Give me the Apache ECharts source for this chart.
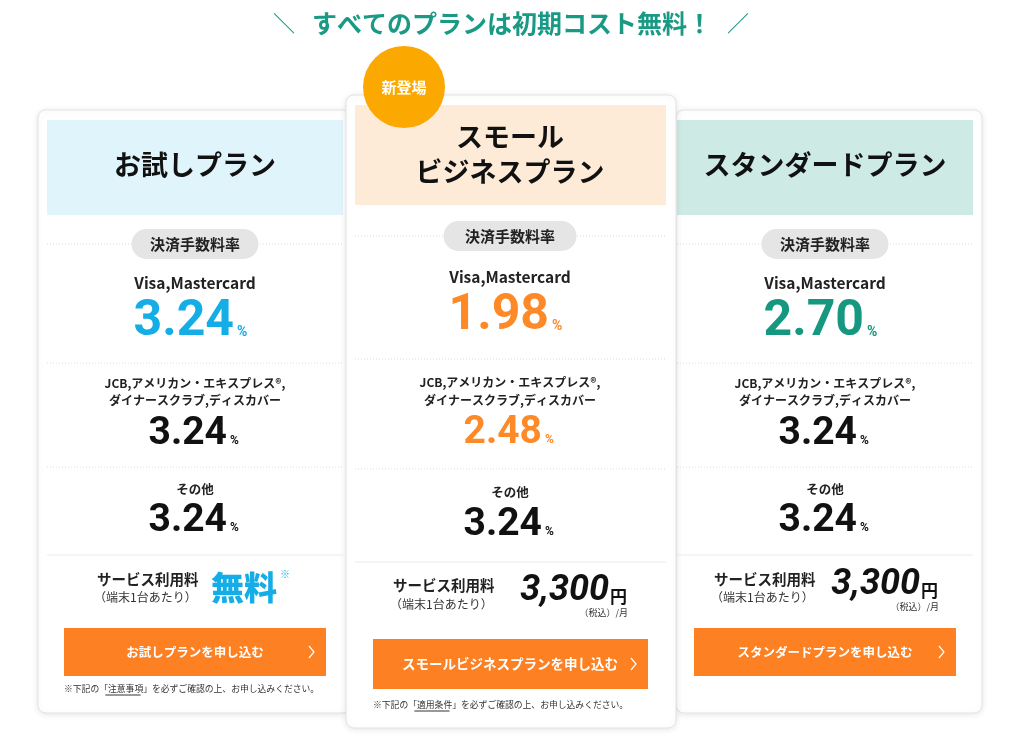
<!DOCTYPE html>
<html><head><meta charset="utf-8">
<script src="https://cdn.jsdelivr.net/npm/echarts@6/dist/echarts.min.js"></script>
<style>html,body{margin:0;padding:0;background:#fff}#c{width:1024px;height:742px}</style>
</head><body><div id="c"></div>
<script>
// ---- data ----
const headline = 'すべてのプランは初期コスト無料！';
const planNames = ['お試しプラン', 'スモール\nビジネスプラン', 'スタンダードプラン'];
const badgeLabel = '新登場';
const rateLabel = '決済手数料率';
const brandVisa = 'Visa,Mastercard';
const brandJcb = ['JCB,アメリカン・エキスプレス®,', 'ダイナースクラブ,ディスカバー'];
const brandOther = 'その他';
const visaRates = ['3.24', '1.98', '2.70'];
const jcbRates = ['3.24', '2.48', '3.24'];
const otherRates = ['3.24', '3.24', '3.24'];
const feeLabel = ['サービス利用料', '（端末1台あたり）'];
const serviceFees = ['無料', '3,300', '3,300'];
const feeUnit = '円';
const feeNote = '（税込）/月';
const buttonLabels = ['お試しプランを申し込む', 'スモールビジネスプランを申し込む', 'スタンダードプランを申し込む'];
const footnotes = [['※下記の「', '注意事項', '」を必ずご確認の上、お申し込みください。'], ['※下記の「', '適用条件', '」を必ずご確認の上、お申し込みください。'], null];

// ---- layout / style ----
const JP = '"Noto Sans CJK JP", "Noto Sans", sans-serif';
const NUM = 'Roboto, "Noto Sans", sans-serif';
const ORANGE_BTN = '#fd8022';
const layouts = [
  {cx:195, x:38, y:110, w:312, h:603, hx:47, hw:296, hy:120, hh:95, headFill:'#e0f4fb', rateColor:'#15ade6', jcbColor:'#111',
   pill:244, pw:127, visa:283, n1:322, d1:363, j1:383, j2:400, n2:434, d2:467, o:489, n3:521, d3:555, f1:579, f2:597, fn:587,
   lx:97, fr:null, by:628, bh:48, bx:64, bw:262, bfs:12.5, foot:689, title:[165]},
  {cx:510, x:346, y:95, w:330, h:633, hx:355, hw:311, hy:105, hh:100, headFill:'#fdebd8', rateColor:'#fd8a27', jcbColor:'#fd8a27',
   pill:236, pw:133, visa:277, n1:316, d1:359, j1:382, j2:400, n2:433, d2:469, o:492, n3:525, d3:562, f1:585, f2:604, fn:591,
   lx:393, fr:609, by:639, bh:50, bx:373, bw:275, bfs:13.5, foot:705, title:[137,172]},
  {cx:825, x:676, y:110, w:306, h:603, hx:677, hw:296, hy:120, hh:95, headFill:'#cdeae5', rateColor:'#16977f', jcbColor:'#111',
   pill:244, pw:127, visa:283, n1:322, d1:363, j1:383, j2:400, n2:434, d2:467, o:489, n3:521, d3:555, f1:579, f2:597, fn:585,
   lx:714, fr:920, by:628, bh:48, bx:694, bw:262, bfs:12.5, foot:null, title:[165]}
];

const els = [];
function T(x, y, text, size, color, opt) {
  opt = opt || {};
  els.push({type:'text', x:x, y:y, z: opt.z || 10, style:{text:text, fill:color, fontSize:size,
    fontWeight: opt.weight || 'bold', fontStyle: opt.style || 'normal', fontFamily: opt.family || JP,
    textAlign: opt.align || 'center', textVerticalAlign: opt.va || 'middle'}});
}
function R(x, y, w, h, fill, opt) {
  opt = opt || {};
  els.push({type:'rect', z: opt.z || 5, shape:{x:x, y:y, width:w, height:h, r: opt.r || 0},
    style:Object.assign({fill:fill}, opt.style || {})});
}
function L(x1, y1, x2, y2, color, dash, z) {
  els.push({type:'line', z: z || 6, shape:{x1:x1, y1:y1, x2:x2, y2:y2},
    style:{stroke:color, lineWidth:1, lineDash: dash || null}});
}

// headline
T(512, 23, headline, 25, '#1a9a85');
T(284, 23, '＼', 22, '#1a9a85', {weight:'normal'});
T(738, 23, '／', 22, '#1a9a85', {weight:'normal'});

function card(i) {
  const c = layouts[i];
  const zb = i === 1 ? 20 : 0;
  // card body
  R(c.x, c.y, c.w, c.h, '#fff', {r:8, z:zb+1, style:{stroke:'#e4e4e4', lineWidth:1, shadowBlur:6, shadowColor:'rgba(0,0,0,0.10)', shadowOffsetY:1}});
  // header
  R(c.hx, c.hy, c.hw, c.hh, c.headFill, {z:zb+2});
  const names = planNames[i].split('\n');
  names.forEach((n, k) => T(c.cx, c.title[k], n, 27, '#111', {z:zb+3}));
  // pill row
  L(c.hx, c.pill, c.hx + c.hw, c.pill, '#dcdcdc', [1, 2], zb+2);
  R(c.cx - c.pw / 2, c.pill - 15, c.pw, 30, '#e5e5e5', {r:15, z:zb+3});
  T(c.cx, c.pill, rateLabel, 15, '#222', {z:zb+4});
  // visa
  T(c.cx, c.visa, brandVisa, 15.5, '#222', {z:zb+3});
  T(c.cx + 39, c.n1, visaRates[i], 50, c.rateColor, {family:NUM, align:'right', z:zb+3});
  T(c.cx + 42, c.n1 + 10, '%', 14, c.rateColor, {family:NUM, align:'left', z:zb+3});
  L(c.hx, c.d1, c.hx + c.hw, c.d1, '#dcdcdc', [1, 2], zb+2);
  // jcb
  T(c.cx, c.j1, brandJcb[0], 12, '#222', {z:zb+3});
  T(c.cx, c.j2, brandJcb[1], 12, '#222', {z:zb+3});
  T(c.cx + 32, c.n2, jcbRates[i], 39, c.jcbColor, {family:NUM, align:'right', z:zb+3});
  T(c.cx + 35, c.n2 + 7, '%', 12, c.jcbColor, {family:NUM, align:'left', z:zb+3});
  L(c.hx, c.d2, c.hx + c.hw, c.d2, '#dcdcdc', [1, 2], zb+2);
  // other
  T(c.cx, c.o, brandOther, 12.5, '#222', {z:zb+3});
  T(c.cx + 32, c.n3, otherRates[i], 39, '#111', {family:NUM, align:'right', z:zb+3});
  T(c.cx + 35, c.n3 + 7, '%', 12, '#111', {family:NUM, align:'left', z:zb+3});
  L(c.hx, c.d3, c.hx + c.hw, c.d3, '#ebebeb', null, zb+2);
  // fee
  T(c.lx, c.f1, feeLabel[0], 14.5, '#222', {align:'left', z:zb+3});
  T(c.lx - 3, c.f2, feeLabel[1], 12, '#333', {align:'left', weight:'normal', z:zb+3});
  if (c.fr === null) {
    T(211, c.fn, serviceFees[i], 33, '#15ade6', {align:'left', weight:'900', z:zb+3});
    T(280, c.f1 - 5, '※', 10, '#15ade6', {align:'left', weight:'normal', z:zb+3});
  } else {
    T(c.fr, c.fn, serviceFees[i], 36, '#111', {family:NUM, align:'right', style:'italic', z:zb+3});
    T(c.fr + 1, c.fn + 6, feeUnit, 17, '#111', {align:'left', z:zb+3});
    T(c.fr + 19, c.fn + 22, feeNote, 9, '#333', {align:'right', weight:'normal', z:zb+3});
  }
  // button
  R(c.bx, c.by, c.bw, c.bh, ORANGE_BTN, {z:zb+3});
  T(c.cx, c.by + c.bh / 2, buttonLabels[i], c.bfs, '#fff', {z:zb+4});
  const ax = c.bx + c.bw - 17, ay = c.by + c.bh / 2;
  els.push({type:'polyline', z:zb+4, shape:{points:[[ax, ay - 6], [ax + 5, ay], [ax, ay + 6]]}, style:{stroke:'#fff', lineWidth:1.2, fill:null}});
  // footnote
  if (footnotes[i]) {
    const fs = 8.8, f = footnotes[i];
    const full = f.join('');
    T(c.bx, c.foot, full, fs, '#333', {align:'left', weight:'normal', z:zb+3});
    const u0 = c.bx + f[0].length * fs - fs * 0.3;
    L(u0, c.foot + 6, u0 + f[1].length * fs, c.foot + 6, '#333', null, zb+3);
  }
}
card(0); card(2); card(1);
// badge
els.push({type:'circle', z:40, shape:{cx:404, cy:87, r:41}, style:{fill:'#fba800'}});
T(404, 87, badgeLabel, 15, '#fff', {z:41});

const chart = echarts.init(document.getElementById('c'), null, {renderer:'canvas'});
chart.setOption({animation:false, backgroundColor:'#fff', graphic:{elements:els}});
</script></body></html>
